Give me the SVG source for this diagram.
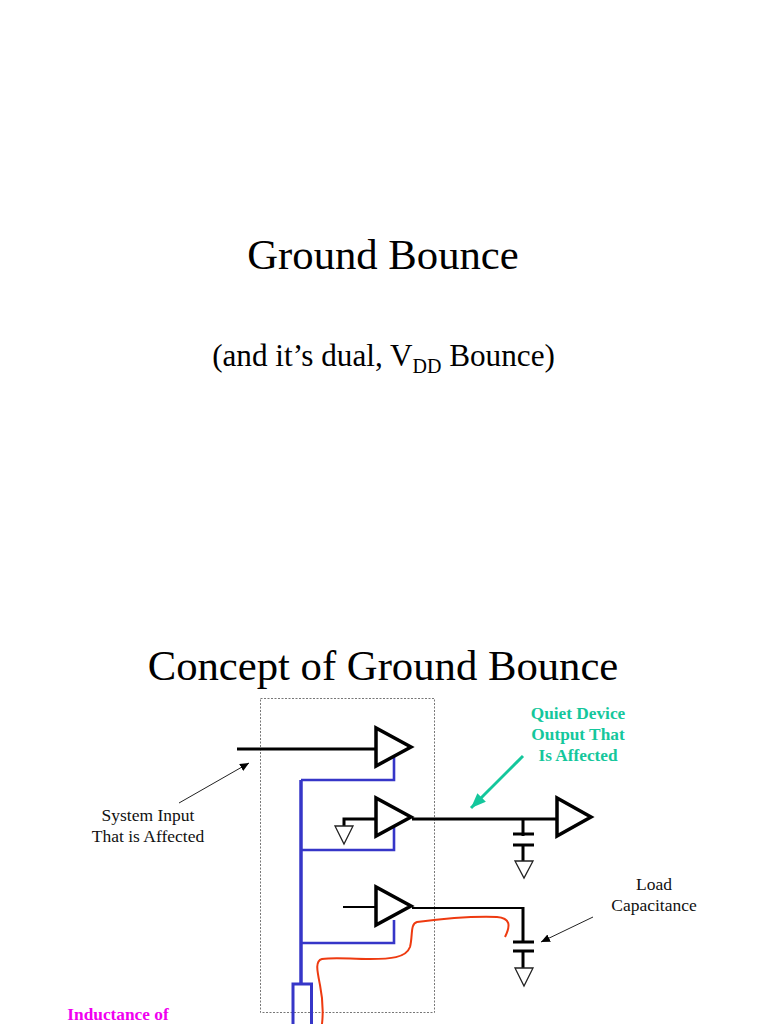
<svg xmlns="http://www.w3.org/2000/svg" width="768" height="1024" viewBox="0 0 768 1024">
<style>
text{font-family:"Liberation Serif","Times New Roman",serif;fill:#000;text-anchor:middle}
.lbl{font-size:17.500px;fill:#111}
.g{font-size:17.300px;font-weight:bold;fill:#14c79c}
.tri{fill:none;stroke:#000;stroke-width:3.500}
.gnd{fill:#fff;stroke:#222;stroke-width:1.300}
.k{fill:none;stroke:#000;stroke-width:3}
.kt{fill:none;stroke:#000;stroke-width:2.200}
.b{fill:none;stroke:#3636c8;stroke-width:3.500}
.bt{fill:none;stroke:#3636c8;stroke-width:2.600}
.thin{fill:none;stroke:#222;stroke-width:1}
</style>
<defs>
<marker id="ah" markerUnits="userSpaceOnUse" markerWidth="10" markerHeight="10" refX="9" refY="4" orient="auto"><path d="M0,0L9,4L0,8z" fill="#000"/></marker>
<marker id="ag" markerUnits="userSpaceOnUse" markerWidth="16" markerHeight="14" refX="15" refY="6" orient="auto"><path d="M0,0L15,6L0,12z" fill="#14c79c"/></marker>
</defs>
<text x="383" y="269" font-size="42.700">Ground Bounce</text>
<text x="383.500" y="365.500" font-size="31.200">(and it’s dual, V<tspan font-size="20" dy="7">DD</tspan><tspan dy="-7"> Bounce)</tspan></text>
<text x="383" y="680" font-size="42.700">Concept of Ground Bounce</text>
<g id="package"><rect x="260.500" y="698.500" width="174" height="314" fill="none" stroke="#777" stroke-width="1" stroke-dasharray="2 1.500"/></g>
<g id="connectors">
<path class="k" d="M237 749H376"/>
<path class="b" d="M301 984V780"/>
<path class="bt" d="M301 780H394V756"/>
<path class="bt" d="M301 850H394V826"/>
<path class="bt" d="M301 943H394V920"/>
<path class="k" d="M344 826V819H376"/>
<path class="k" d="M412 819H557"/>
<path class="k" d="M523 819V836M523 846V862"/>
<path class="kt" d="M343 907H376"/>
<path class="kt" d="M412 908H523"/>
<path class="k" d="M523 907V942"/>
<path class="k" d="M523 951V968"/>
<path d="M505 937C511 925 510 918 497 917C470 916 440 919 417 922C410 924 413 935 410 947C406 958 390 959 370 959C350 959 335 957 322 959C315 961 317 970 320 985C323 1000 323 1015 322 1024" fill="none" stroke="#ee3a10" stroke-width="2"/>
<path class="thin" d="M179 803L249 763" marker-end="url(#ah)"/>
<path class="thin" d="M593 917L541 942" marker-end="url(#ah)"/>
<path d="M523 756L471 808" fill="none" stroke="#14c79c" stroke-width="3" marker-end="url(#ag)"/>
</g>
<g id="buffer-1"><path class="tri" d="M376 728V766L411 747z"/></g>
<g id="buffer-2"><path class="tri" d="M376 798V836L411 817z"/></g>
<g id="buffer-3"><path class="tri" d="M376 887V925L411 906z"/></g>
<g id="buffer-4"><path class="tri" d="M557 798V836L591 817z"/></g>
<g id="ground-1"><path class="gnd" d="M335 826H353L344 844z"/></g>
<g id="cap-1"><path class="k" d="M513 834H534M513 845H534"/><path class="gnd" d="M515 861H533L524 878z"/></g>
<g id="cap-2"><path class="k" d="M513 942H534M513 951H534"/><path class="gnd" d="M515 968H533L524 986z"/></g>
<g id="inductor"><rect x="293" y="984" width="18.500" height="50" fill="none" stroke="#3636c8" stroke-width="3"/></g>
<g id="label-input"><text class="lbl" x="148" y="821">System Input</text><text class="lbl" x="148" y="842">That is Affected</text></g>
<g id="label-quiet"><text class="g" x="578" y="718.500">Quiet Device</text><text class="g" x="578" y="739.500">Output That</text><text class="g" x="578" y="761">Is Affected</text></g>
<g id="label-load"><text class="lbl" x="654" y="890">Load</text><text class="lbl" x="654" y="911">Capacitance</text></g>
<g id="label-inductance"><text x="118" y="1020" font-size="17.300" font-weight="bold" style="fill:#f000f0">Inductance of</text></g>
</svg>
